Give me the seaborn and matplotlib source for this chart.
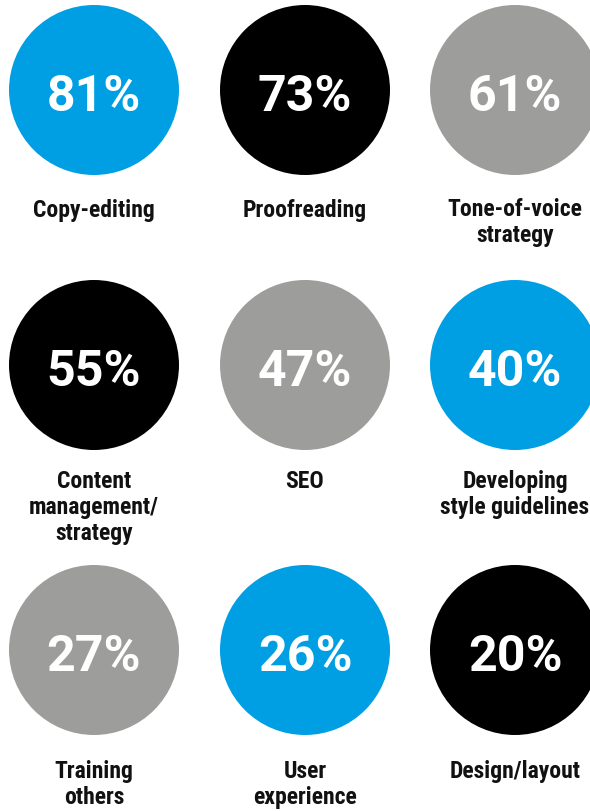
import matplotlib
matplotlib.use("Agg")
import matplotlib.pyplot as plt
import seaborn as sns
import pandas as pd

# Share of respondents doing each task
skills = [
    "Copy-editing", "Proofreading", "Tone-of-voice\nstrategy",
    "Content\nmanagement/\nstrategy", "SEO", "Developing\nstyle guidelines",
    "Training\nothers", "User\nexperience", "Design/layout",
]
shares = [81, 73, 61, 55, 47, 40, 27, 26, 20]
tones = ["blue", "black", "grey", "black", "grey", "blue", "grey", "blue", "black"]

palette = {"blue": "#009FE3", "black": "#000000", "grey": "#9D9D9C"}

# Grid layout in pixel coordinates
col_x = [94, 305, 515]
row_y = [90, 365, 650]
label_baseline = [216.5, 488, 778]
line_gap = 25.8
radius_px = 85

sns.set_theme(style="white")
plt.rcParams["font.family"] = ["Roboto", "DejaVu Sans"]

df = pd.DataFrame({
    "skill": skills,
    "share": shares,
    "tone": tones,
})
df["col"] = [i % 3 for i in range(len(df))]
df["row"] = [i // 3 for i in range(len(df))]
df["x"] = [col_x[c] for c in df["col"]]
df["y"] = [row_y[r] for r in df["row"]]

dpi = 100
fig = plt.figure(figsize=(5.9, 8.11), dpi=dpi)
ax = fig.add_axes([0, 0, 1, 1])

marker_diam_pt = 2 * radius_px * 72 / dpi
sns.scatterplot(
    data=df, x="x", y="y", hue="tone", palette=palette,
    s=marker_diam_pt ** 2, linewidth=0, legend=False, ax=ax,
)

label_family = ["Roboto Condensed", "Roboto", "DejaVu Sans"]

for _, r in df.iterrows():
    ax.text(r["x"], r["y"] + 21, f"{r['share']}%", color="white",
            fontsize=36, fontweight="bold", family=["Roboto", "DejaVu Sans"],
            ha="center", va="baseline")
    base = label_baseline[r["row"]]
    for k, line in enumerate(r["skill"].split("\n")):
        ax.text(r["x"], base + k * line_gap, line, color="#111111",
                fontsize=17, fontweight="bold", family=label_family,
                ha="center", va="baseline")

ax.set_xlim(0, 590)
ax.set_ylim(811, 0)
ax.set_axis_off()

fig.savefig("out.png", dpi=dpi)
